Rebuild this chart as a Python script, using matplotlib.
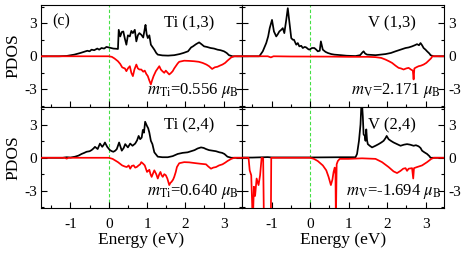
import matplotlib
matplotlib.use("Agg")
import matplotlib.pyplot as plt
from matplotlib.ticker import MultipleLocator

plt.rcParams['font.family'] = ['Liberation Serif', 'DejaVu Serif']
plt.rcParams['mathtext.fontset'] = 'stix'
plt.rcParams['axes.unicode_minus'] = False

# ---------------- data ----------------
# Panel Ti (1,3)
ti13_up_e = [-1.77,-1.3,-1.1,-0.9,-0.74,-0.65,-0.56,-0.5,-0.45,-0.38,-0.3,-0.25,-0.19,-0.12,-0.06,0.0,0.06,0.12,0.2,0.24,0.26,0.3,0.34,0.38,0.42,0.46,0.5,0.55,0.59,0.63,0.68,0.72,0.76,0.8,0.85,0.9,0.94,0.96,0.99,1.02,1.06,1.1,1.15,1.19,1.24,1.28,1.4,1.55,1.71,1.85,1.95,2.07,2.15,2.2,2.28,2.36,2.42,2.49,2.56,2.66,2.75,2.84,2.92,3.01,3.08,3.14,3.23,3.5]
ti13_up = [0,0,0.03,0.15,0.3,0.4,0.5,0.45,0.6,0.55,0.7,0.6,0.75,0.7,0.85,0.8,0.75,0.7,0.68,0.66,2.4,1.8,2.2,2.25,1.6,1.05,1.9,1.8,2.3,2.1,2.4,1.35,1.9,2.1,1.95,1.7,2.5,2.85,2.0,1.65,1.9,1.05,0.8,0.6,0.3,0.15,0.08,0.06,0.1,0.2,0.3,0.45,0.8,0.9,1.1,1.26,1.1,0.9,0.85,0.75,0.7,0.6,0.55,0.45,0.3,0.1,0,0]
ti13_dn_e = [-1.77,0.0,0.08,0.15,0.24,0.3,0.35,0.38,0.42,0.46,0.5,0.55,0.59,0.63,0.67,0.72,0.76,0.8,0.85,0.9,0.94,0.98,1.02,1.06,1.1,1.13,1.17,1.23,1.28,1.32,1.36,1.4,1.45,1.49,1.54,1.58,1.63,1.67,1.71,1.75,1.8,1.84,1.97,2.1,2.23,2.35,2.45,2.55,2.62,2.7,2.77,2.84,2.9,2.97,3.04,3.1,3.2,3.28,3.5]
ti13_dn = [0,0,-0.05,-0.2,-0.45,-0.7,-1.0,-1.05,-1.1,-1.35,-1.1,-0.9,-1.5,-1.8,-1.2,-0.75,-1.1,-1.2,-1.2,-1.4,-1.3,-1.6,-1.8,-2.2,-2.55,-2.2,-1.8,-1.35,-1.1,-0.9,-1.2,-1.35,-1.5,-1.3,-1.5,-1.65,-1.5,-1.35,-1.1,-0.9,-0.65,-0.5,-0.4,-0.42,-0.45,-0.5,-0.6,-0.75,-0.9,-1.15,-1.0,-0.95,-0.85,-0.75,-0.6,-0.4,-0.1,0,0]

# Panel V (1,3)
v13_up_e = [-1.78,-1.32,-1.23,-1.14,-1.09,-1.05,-0.99,-0.94,-0.88,-0.84,-0.8,-0.75,-0.71,-0.67,-0.62,-0.58,-0.53,-0.49,-0.45,-0.42,-0.36,-0.32,-0.28,-0.23,-0.19,-0.14,-0.1,-0.05,-0.02,0.05,0.11,0.16,0.2,0.25,0.28,0.31,0.33,0.4,0.46,0.55,0.63,0.8,0.95,1.18,1.3,1.36,1.39,1.43,1.48,1.7,1.96,2.1,2.22,2.35,2.48,2.56,2.65,2.72,2.78,2.83,2.87,2.91,2.95,3.0,3.04,3.1,3.13,3.21,3.48]
v13_up = [0,0,0.45,1.2,1.8,2.55,3.3,2.25,1.8,2.0,2.25,2.4,2.55,2.1,3.3,4.36,2.85,1.65,1.5,1.5,1.05,1.2,0.9,0.95,0.75,0.85,0.8,0.65,0.6,0.75,0.75,0.6,0.45,0.5,1.35,0.9,0.6,0.4,0.3,0.2,0.15,0.1,0.05,0.02,0.1,0.35,0.45,0.25,0.15,0.1,0.2,0.3,0.45,0.6,0.75,0.8,0.9,1.0,1.1,1.0,1.2,1.0,0.75,0.6,0.45,0.25,0.1,0,0]
v13_dn_e = [-1.78,-1.1,-1.02,-0.95,-0.5,0.5,1.0,1.5,1.7,1.85,1.96,2.05,2.13,2.22,2.3,2.36,2.43,2.5,2.56,2.62,2.67,2.69,2.71,2.76,2.82,2.88,2.95,3.02,3.08,3.14,3.18,3.48]
v13_dn = [0,0,-0.1,0,-0.02,-0.03,-0.05,-0.05,-0.08,-0.15,-0.3,-0.45,-0.6,-0.85,-1.05,-1.1,-1.2,-1.1,-1.05,-1.2,-1.3,-2.1,-1.1,-1.0,-0.9,-0.85,-0.75,-0.6,-0.4,-0.2,0,0]

# Panel Ti (2,4)
ti24_up_e = [-1.77,-1.2,-1.1,-1.0,-0.88,-0.79,-0.71,-0.64,-0.58,-0.5,-0.45,-0.4,-0.36,-0.29,-0.23,-0.17,-0.13,-0.1,-0.04,0.03,0.08,0.12,0.17,0.21,0.27,0.34,0.39,0.43,0.5,0.56,0.62,0.69,0.74,0.78,0.82,0.86,0.89,0.92,0.95,1.0,1.03,1.06,1.1,1.14,1.19,1.28,1.4,1.54,1.67,1.8,1.93,2.06,2.15,2.24,2.32,2.41,2.48,2.54,2.62,2.71,2.8,2.89,2.96,3.02,3.1,3.2,3.5]
ti24_up = [0,0,0.05,0.02,0.1,0.2,0.35,0.45,0.55,0.6,0.7,0.85,1.0,0.8,1.3,1.0,1.2,1.4,1.0,0.7,0.6,0.55,0.65,0.8,1.4,0.65,0.9,1.25,0.95,1.3,1.1,1.3,1.6,2.0,1.7,1.85,2.55,2.3,3.3,2.9,2.7,2.3,1.55,1.25,0.5,0.1,0.05,0.05,0.15,0.35,0.45,0.5,0.6,0.7,0.85,0.95,0.9,0.8,0.7,0.65,0.6,0.5,0.45,0.35,0.1,0,0]
ti24_dn_e = [-1.77,-1.15,-1.1,-1.05,0.0,0.1,0.24,0.35,0.42,0.47,0.52,0.56,0.6,0.65,0.69,0.73,0.78,0.82,0.85,0.9,0.94,1.0,1.03,1.06,1.09,1.12,1.16,1.19,1.24,1.28,1.32,1.35,1.38,1.41,1.45,1.49,1.53,1.58,1.61,1.64,1.68,1.71,1.75,1.78,1.84,1.97,2.1,2.28,2.4,2.54,2.6,2.67,2.73,2.8,2.88,2.97,3.04,3.1,3.2,3.28,3.5]
ti24_dn = [0,0,-0.08,0,0,-0.1,-0.4,-0.7,-0.8,-0.85,-0.7,-1.0,-0.75,-0.7,-0.9,-0.85,-0.7,-0.6,-0.4,-0.55,-0.7,-1.3,-1.2,-1.1,-1.5,-1.75,-1.4,-1.15,-1.5,-1.9,-1.5,-1.3,-1.6,-1.75,-1.5,-1.6,-1.9,-2.5,-2.3,-2.2,-2.0,-1.75,-1.3,-0.85,-0.5,-0.4,-0.42,-0.5,-0.55,-0.6,-0.8,-1.0,-0.9,-0.85,-0.7,-0.6,-0.45,-0.3,-0.1,0,0]

# Panel V (2,4)
v24_up_e = [-1.78,-1.5,-1.1,-1.0,0.0,0.8,1.1,1.18,1.22,1.27,1.31,1.34,1.37,1.39,1.42,1.44,1.46,1.48,1.5,1.55,1.61,1.7,1.78,1.85,1.91,1.96,1.99,2.04,2.1,2.17,2.26,2.35,2.44,2.52,2.6,2.69,2.75,2.82,2.87,2.91,2.97,3.04,3.1,3.13,3.48]
v24_up = [0.02,0.02,0.06,0.03,0.03,0.05,0.05,0.05,0.35,1.55,3.05,5.5,3.8,2.15,2.0,1.55,2.6,1.6,1.25,1.1,0.95,1.1,1.25,1.4,1.55,1.8,2.0,1.7,1.55,1.4,1.25,1.1,1.2,1.25,1.2,1.1,1.15,1.05,0.9,0.65,0.5,0.35,0.15,0.0,0]
v24_dn_e = [-1.78,-1.6,-1.57,-1.53,-1.49,-1.46,-1.43,-1.39,-1.34,-1.3,-1.26,-1.22,-1.2,-1.1,-1.02,-1.01,0.0,0.1,0.2,0.33,0.42,0.48,0.54,0.58,0.61,0.64,0.66,0.67,0.69,0.72,0.77,0.83,1.0,1.35,1.7,1.87,2.04,2.17,2.26,2.35,2.42,2.48,2.52,2.56,2.65,2.68,2.7,2.78,2.91,3.04,3.15,3.22,3.48]
v24_dn = [0,0,-1.15,-1.6,-6.0,-2.65,-3.5,-1.9,-2.5,-1.6,0,-0.05,-6.0,-6.0,-6.0,0,0,-0.1,-0.3,-0.7,-1.15,-1.75,-2.5,-2.0,-1.3,-0.9,-1.5,-6.0,-0.6,-0.3,-0.1,-0.1,-0.1,-0.05,-0.1,-0.4,-0.85,-1.25,-1.4,-1.2,-1.0,-0.95,-1.2,-1.0,-0.95,-1.9,-0.95,-0.85,-0.7,-0.4,-0.1,0,0]

labels = ["Ti (1,3)", "V (1,3)", "Ti (2,4)", "V (2,4)"]
moments = [r"$m_{\rm Ti}$=0.556 $\mu_{\rm B}$", r"$m_{\rm V}$=2.171 $\mu_{\rm B}$",
           r"$m_{\rm Ti}$=0.640 $\mu_{\rm B}$", r"$m_{\rm V}$=-1.694 $\mu_{\rm B}$"]
xticks = [-1, 0, 1, 2, 3]
yticks = [-3, 0, 3]

series = [(ti13_up_e, ti13_up, ti13_dn_e, ti13_dn),
          (v13_up_e, v13_up, v13_dn_e, v13_dn),
          (ti24_up_e, ti24_up, ti24_dn_e, ti24_dn),
          (v24_up_e, v24_up, v24_dn_e, v24_dn)]

W, H = 473, 261
fig = plt.figure(figsize=(W/100, H/100), dpi=100)

def px_axes(x0, y0, x1, y1):
    return fig.add_axes([x0/W, 1 - y1/H, (x1-x0)/W, (y1-y0)/H])

boxes = [(41, 5, 242, 107), (242, 5, 444, 107), (41, 107, 242, 208), (242, 107, 444, 208)]
axes = []
for i, b in enumerate(boxes):
    ax = px_axes(*b)
    axes.append(ax)
    eu, up, ed, dn = series[i]
    ax.axvline(0, color='#44e044', lw=0.8, ls=(0, (3, 2)), zorder=1)
    ax.plot(eu, up, color='black', lw=1.25, zorder=2)
    ax.plot(ed, dn, color='red', lw=1.25, zorder=3)
    ax.set_xlim(-1.77, 3.48)
    ax.set_ylim(-4.6, 4.65)
    ax.set_xticks(xticks)
    ax.set_yticks(yticks)
    ax.xaxis.set_minor_locator(MultipleLocator(0.5))
    ax.yaxis.set_minor_locator(MultipleLocator(1.5))
    right = (i % 2 == 1)
    bottom = (i >= 2)
    ax.tick_params(which='both', direction='in', top=False, bottom=True,
                   left=True, right=True, labelsize=11, width=0.8,
                   labelleft=not right, labelright=right,
                   labelbottom=bottom, pad=3)
    ax.tick_params(which='major', length=4)
    ax.tick_params(which='minor', length=2.5)
    if bottom:
        ax.tick_params(axis='x', pad=7)
        ax.set_xlabel("Energy (eV)", fontsize=12.5, labelpad=1)
    if not right:
        ax.set_ylabel("PDOS", fontsize=12.5, labelpad=2)
    for s in ax.spines.values():
        s.set_linewidth(0.8)
    ax.text(0.86, 0.82, labels[i], transform=ax.transAxes, ha='right', va='center', fontsize=12)
    ax.text(0.985, 0.165, moments[i], transform=ax.transAxes, ha='right', va='center', fontsize=12)

axes[0].text(0.055, 0.84, "(c)", transform=axes[0].transAxes, ha='left', va='center', fontsize=11.5)

fig.savefig("out.png", dpi=100)
